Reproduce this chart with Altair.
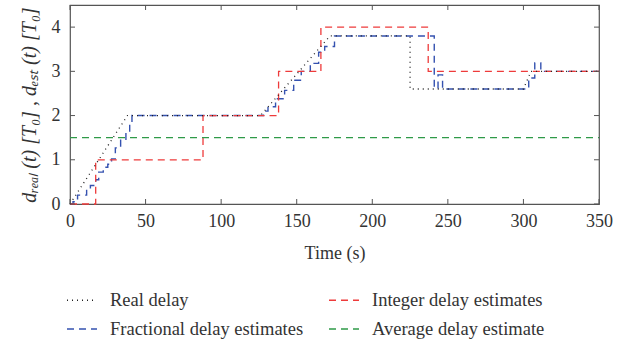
import altair as alt
import pandas as pd

# ---- data ----
real_t = [0, 38, 126, 172, 225, 225, 300, 305, 350]
real_v = [0, 2.0, 2.0, 3.8, 3.8, 2.6, 2.6, 3.0, 3.0]

frac_t = [0, 2, 5, 11, 13.5, 17, 19, 22, 25, 27.5, 30, 33.5, 37, 39.5, 41,
          128, 131, 136, 142, 148, 153, 159, 164.5, 168.5, 175,
          241, 243.5, 246.5, 303.5, 307.5, 311.5, 350]
frac_v = [0, 0.05, 0.2, 0.35, 0.42, 0.55, 0.72, 0.83, 0.9, 1.02, 1.27, 1.44, 1.62, 1.85, 2.0,
          2.1, 2.2, 2.38, 2.57, 2.8, 3.0, 3.18, 3.43, 3.56, 3.8,
          2.62, 2.92, 2.6, 2.85, 3.19, 3.0, 3.0]

int_t = [0, 17, 88, 138, 166, 237, 350]
int_v = [0, 1, 2, 3, 4, 3, 3]

avg_t = [0, 350]
avg_v = [1.5, 1.5]

x_ticks = [0, 50, 100, 150, 200, 250, 300, 350]
y_ticks = [0, 1, 2, 3, 4]

# legend fills column by column: col 1 = Real, Fractional; col 2 = Integer, Average
series = ["Real delay", "Fractional delay estimates",
          "Integer delay estimates", "Average delay estimate"]
colors = ["#222222", "#3552b0", "#ee3b3b", "#2f9a48"]
dashes = [[1, 4], [7, 5], [7, 5], [7, 5]]

W, H = 529, 199
FONT = "Liberation Serif"

def frame(name, t, v):
    return pd.DataFrame({"t": t, "v": v, "series": name})

real_df = frame(series[0], real_t, real_v)
frac_df = frame(series[1], frac_t, frac_v)
int_df = frame(series[2], int_t, int_v)
avg_df = frame(series[3], avg_t, avg_v)

legend = alt.Legend(title=None, orient="none", legendX=-4, legendY=279,
                    columns=2, columnPadding=22, rowPadding=3,
                    symbolType="stroke", symbolSize=900, symbolStrokeWidth=1.3,
                    labelOffset=12, labelLimit=400)

xs = alt.Scale(domain=[0, 350], nice=False, zero=False)
ys = alt.Scale(domain=[0, 4.5], nice=False, zero=False)

x_axis = alt.Axis(values=x_ticks, title="Time (s)", ticks=False,
                  domain=False, grid=False, labelPadding=8, titlePadding=14, labelFlush=False)
y_axis = alt.Axis(values=y_ticks, title="dᵣₑₐₗ (t) [T₀] , dₑₛₜ (t) [T₀]", ticks=False,
                  domain=False, grid=False, labelPadding=10, titleFontSize=20,
                  titleFontStyle="italic", titlePadding=12)

x_enc = alt.X("t:Q", scale=xs, axis=x_axis)
y_enc = alt.Y("v:Q", scale=ys, axis=y_axis)

color = alt.Color("series:N", scale=alt.Scale(domain=series, range=colors), legend=legend)
dash = alt.StrokeDash("series:N", scale=alt.Scale(domain=series, range=dashes), legend=legend)

def line(df, interp, width):
    return alt.Chart(df).mark_line(interpolate=interp, strokeWidth=width).encode(
        x=x_enc, y=y_enc, color=color, strokeDash=dash)

frac = line(frac_df, "step-after", 1.4)
integ = line(int_df, "step-after", 1.3)
real = line(real_df, "linear", 1.3)
avg = line(avg_df, "linear", 1.3)

xt = pd.DataFrame({"t": x_ticks})
yt = pd.DataFrame({"v": y_ticks})
tick_col = "#555"
xb = alt.Chart(xt).mark_rule(color=tick_col).encode(x=x_enc, y=alt.value(H), y2=alt.value(H - 5))
xtop = alt.Chart(xt).mark_rule(color=tick_col).encode(x=x_enc, y=alt.value(0), y2=alt.value(5))
yl = alt.Chart(yt).mark_rule(color=tick_col).encode(y=y_enc, x=alt.value(0), x2=alt.value(5))
yr = alt.Chart(yt).mark_rule(color=tick_col).encode(y=y_enc, x=alt.value(W), x2=alt.value(W - 5))

chart = alt.layer(frac, integ, real, avg, xb, xtop, yl, yr).properties(
    width=W, height=H,
    autosize=alt.AutoSizeParams(type="none"),
    padding={"left": 70, "top": 5, "right": 30, "bottom": 137},
    background="white",
).configure(font=FONT).configure_axis(
    labelFont=FONT, labelFontSize=18, labelColor="#333",
    titleFont=FONT, titleFontSize=18, titleFontWeight="normal", titleColor="#333",
).configure_legend(
    labelFont=FONT, labelFontSize=18.5, labelColor="#333",
).configure_view(stroke="#555", strokeWidth=1.2)

chart.save("out.html", embed_options={"renderer": "svg", "actions": False})
